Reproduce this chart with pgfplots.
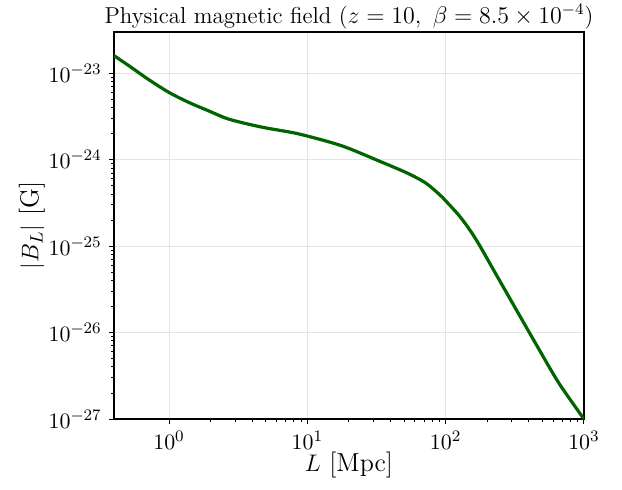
\documentclass[border=0pt]{standalone}
\usepackage{pgfplots}
\pgfplotsset{compat=1.18}
\definecolor{dgreen}{RGB}{0,100,0}
\begin{document}
\begin{tikzpicture}
\begin{axis}[
    at={(0pt,0pt)}, anchor=south west,
    scale only axis,
    width=235pt, height=193.5pt,
    xmode=log, ymode=log,
    xmin=0.4, xmax=1000,
    ymin=1e-27, ymax=3e-23,
    xtick={1,10,100,1000},
    ytick={1e-27,1e-26,1e-25,1e-24,1e-23},
    tick pos=left,
    tick align=outside,
    major tick length=2.6pt,
    minor tick length=1.5pt,
    axis line style={line width=1pt},
    every tick/.style={black, line width=0.5pt},
    xmajorgrids, ymajorgrids,
    grid style={gray!20, line width=0.4pt},
    tick label style={font=\fontsize{11.2}{13}\selectfont},
    title={Physical magnetic field ($z=10,\ \beta=8.5\times10^{-4}$)},
    every axis title/.style={at={(axis description cs:0.5,1)},
        anchor=base, yshift=4.5pt, inner sep=0pt,
        font=\fontsize{11.5}{13}\selectfont},
    xlabel={$L$ [Mpc]},
    ylabel={$|B_L|$ [G]},
    every axis x label/.style={at={(axis description cs:0.5,0)},
        anchor=center, yshift=-23pt, font=\fontsize{13}{15}\selectfont},
    every axis y label/.style={at={(axis description cs:0,0.5)},
        xshift=-41pt, rotate=90, anchor=center,
        font=\fontsize{13}{15}\selectfont},
]
% |B_L| vs L
\addplot[color=dgreen, line width=1.6pt, smooth, tension=0.5] coordinates {
    (0.4, 1.60e-23)
    (0.514, 1.219e-23)
    (0.717, 8.39e-24)
    (1.0, 6.0e-24)
    (1.395, 4.59e-24)
    (1.945, 3.66e-24)
    (2.716, 2.94e-24)
    (4.70, 2.38e-24)
    (8.28, 2.02e-24)
    (14.3, 1.61e-24)
    (20.0, 1.35e-24)
    (33.0, 9.66e-25)
    (45.9, 7.74e-25)
    (57.0, 6.60e-25)
    (72.1, 5.35e-25)
    (89.5, 4.0e-25)
    (100.5, 3.32e-25)
    (124.7, 2.27e-25)
    (147, 1.60e-25)
    (174, 1.05e-25)
    (243, 4.11e-26)
    (339, 1.62e-26)
    (472, 6.44e-27)
    (659, 2.60e-27)
    (1000, 1.0e-27)
};
\end{axis}
\pgfresetboundingbox
\path[use as bounding box] (-57pt,-35pt) rectangle (254pt,209.5pt);
\end{tikzpicture}
\end{document}
